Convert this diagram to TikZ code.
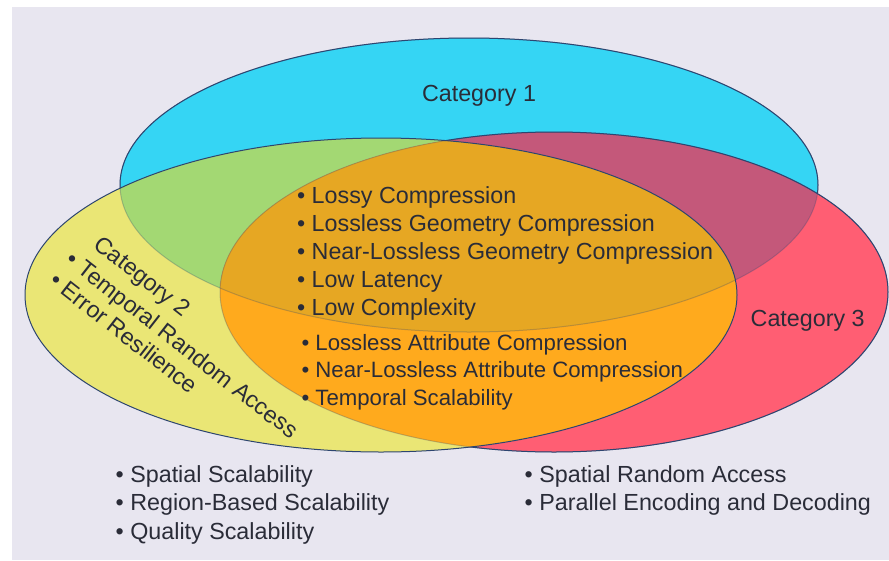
\documentclass[tikz,border=0pt]{standalone}
\usepackage{fontspec}
\setmainfont{Liberation Sans}

% Region colours of the three-set diagram
\definecolor{bgpanel}{HTML}{E8E6F0}
\definecolor{cblue}{HTML}{35D5F4}
\definecolor{cyel}{HTML}{EAE675}
\definecolor{cred}{HTML}{FF5E73}
\definecolor{cgreen}{HTML}{A3D873}
\definecolor{cpurple}{HTML}{C4587A}
\definecolor{corange}{HTML}{FFAA1D}
\definecolor{cdark}{HTML}{E6A723}
\definecolor{edgecol}{HTML}{2D4570}
\definecolor{txt}{HTML}{2A2C38}

% The three sets
\newcommand\setOne{(469,185) ellipse [x radius=349pt, y radius=147pt]}
\newcommand\setTwo{(381,295) ellipse [x radius=356pt, y radius=157pt]}
\newcommand\setThree{(554,292) ellipse [x radius=334pt, y radius=160pt]}
\newcommand\wholeArea{(0,0) rectangle (889,560)}

\begin{document}
\begin{tikzpicture}[x=1pt,y=-1pt,
  edge/.style={draw=edgecol, line width=1pt},
  faint/.style={draw=edgecol, draw opacity=0.28, line width=1pt},
  lbl/.style={font=\fontsize{23.3}{28}\selectfont, text=txt, inner sep=0pt},
  lblsmall/.style={lbl, font=\fontsize{22.2}{27}\selectfont},
  lblrot/.style={lbl, anchor=base west, rotate=-38}]

\useasboundingbox \wholeArea;
\fill[white] \wholeArea;
\fill[bgpanel] (12,7) rectangle (889,560);

% single-set fills
\fill[cblue] \setOne;
\fill[cred] \setThree;
\fill[cyel] \setTwo;
% pairwise overlaps
\begin{scope}
  \clip \setOne;
  \fill[cgreen] \setTwo;
  \fill[cpurple] \setThree;
\end{scope}
\begin{scope}
  \clip \setTwo;
  \fill[corange] \setThree;
  \clip \setOne;
  \fill[cdark] \setThree;
\end{scope}

% outlines: faint where covered, dark where on top
\draw[faint] \setOne;
\draw[faint] \setThree;
\draw[edge] \setTwo;
\begin{scope}[even odd rule]
  \clip \wholeArea \setTwo;
  \draw[edge] \setThree;
  \clip \wholeArea \setThree;
  \draw[edge] \setOne;
\end{scope}

% set titles
\node[lbl, anchor=base] (cat1) at (479,101.7) {Category 1};
\node[lbl, anchor=base west] (cat3) at (750.5,326.7) {Category 3};

% set 2 labels along the left rim
\node[lblrot] (cat2) at (92.5,247.3) {Category 2};
\node[lblrot] (trand) at (64.6,262.8) {\textbullet\ Temporal Random Access};
\node[lblrot] (eres) at (47.9,283.8) {\textbullet\ Error Resilience};

% common features
\foreach \t [count=\i] in {Lossy Compression, Lossless Geometry Compression,
    Near-Lossless Geometry Compression, Low Latency, Low Complexity}
  \node[lbl, anchor=base west] (core\i) at (296.9,{203.3+28*(\i-1)}) {\textbullet\ \t};
\foreach \t [count=\i] in {Lossless Attribute Compression,
    Near-Lossless Attribute Compression, Temporal Scalability}
  \node[lblsmall, anchor=base west] (attr\i) at (301.3,{350+27.5*(\i-1)}) {\textbullet\ \t};

% features listed below the diagram
\foreach \t [count=\i] in {Spatial Scalability, Region-Based Scalability, Quality Scalability}
  \node[lbl, anchor=base west] (left\i) at (115.5,{482.7+28.2*(\i-1)}) {\textbullet\ \t};
\foreach \t [count=\i] in {Spatial Random Access, Parallel Encoding and Decoding}
  \node[lbl, anchor=base west] (right\i) at (524.5,{482.7+28.2*(\i-1)}) {\textbullet\ \t};

\end{tikzpicture}
\end{document}
